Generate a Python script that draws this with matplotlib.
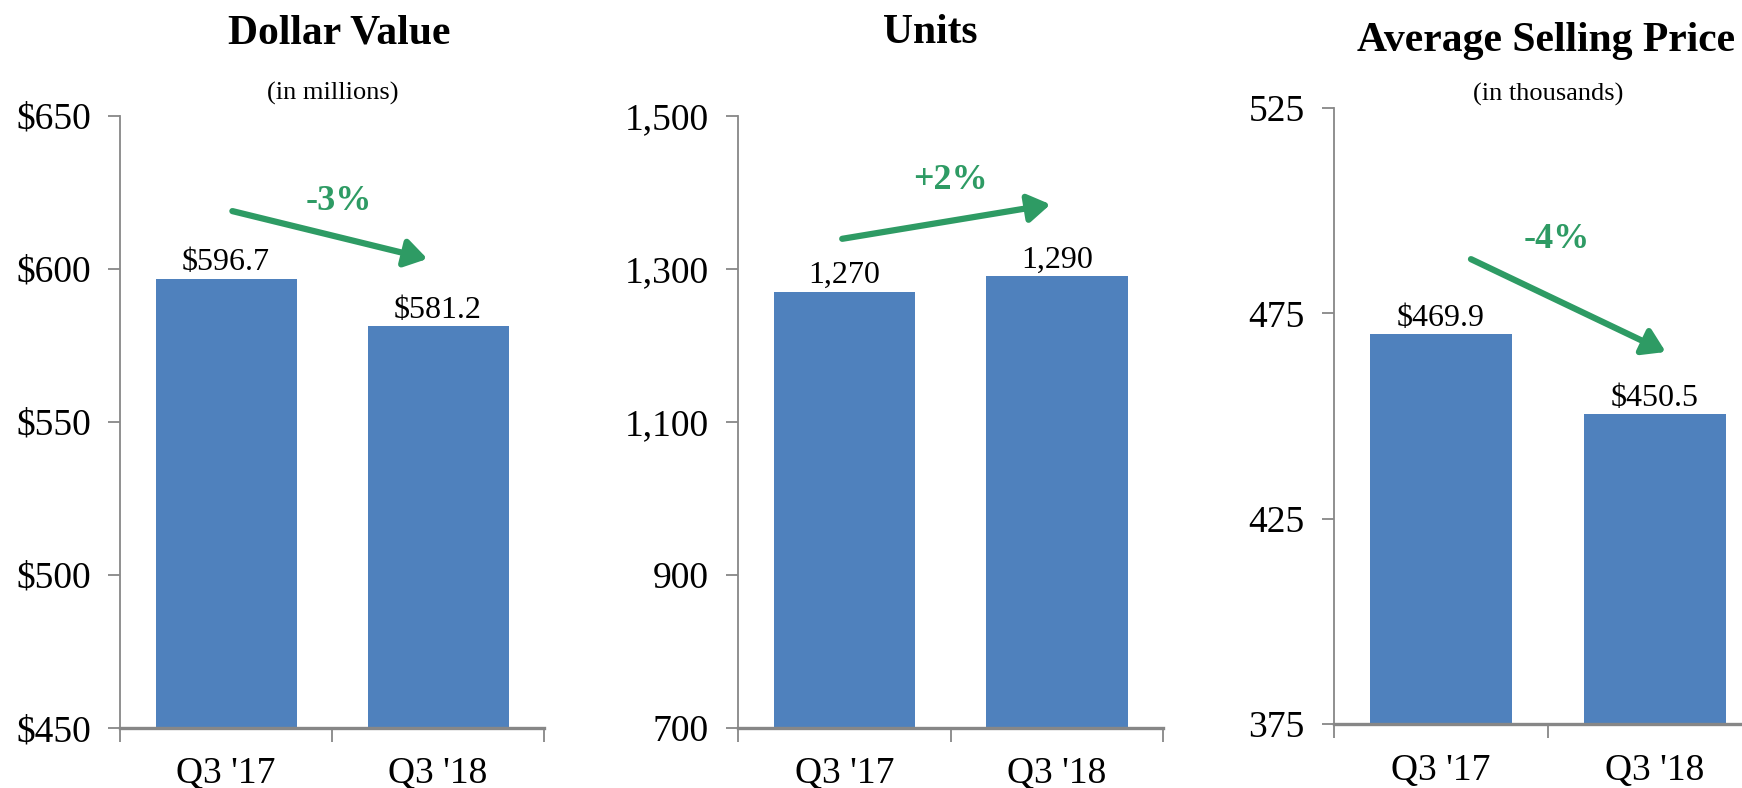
import matplotlib
matplotlib.use("Agg")
import matplotlib.pyplot as plt
from matplotlib.ticker import FuncFormatter, FixedLocator

plt.rcParams['font.family'] = ['Liberation Serif', 'DejaVu Serif']

# quarter-over-quarter comparison
periods = ["Q3 '17", "Q3 '18"]

dollar_value = [596.7, 581.2]      # $ millions
units = [1270, 1290]
avg_price = [469.9, 450.5]         # $ thousands

dollar_ticks = [450, 500, 550, 600, 650]
unit_ticks = [700, 900, 1100, 1300, 1500]
price_ticks = [375, 425, 475, 525]

changes = ["-3%", "+2%", "-4%"]

BAR = "#4f81bd"
GREEN = "#2e9b64"
GREY = "#878787"

fig = plt.figure(figsize=(17.42, 7.88), dpi=100)


def panel(rect, values, ticks, tick_fmt, label_fmt, change, arrow, text_pos):
    ax = fig.add_axes(rect)
    x = range(len(values))
    ax.bar(x, [v - ticks[0] for v in values], bottom=ticks[0], width=0.665, color=BAR)
    ax.set_xlim(-0.5, len(values) - 0.5)
    ax.set_ylim(ticks[0], ticks[-1])

    for s in ("top", "right"):
        ax.spines[s].set_visible(False)
    ax.spines["left"].set_color(GREY)
    ax.spines["left"].set_linewidth(1.3)
    ax.spines["bottom"].set_color(GREY)
    ax.spines["bottom"].set_linewidth(2.4)

    ax.yaxis.set_major_locator(FixedLocator(ticks))
    ax.yaxis.set_major_formatter(FuncFormatter(lambda v, p: tick_fmt(v)))
    ax.tick_params(axis="y", length=9, width=1.3, color=GREY, labelsize=27, pad=12)

    ax.set_xticks(list(x))
    ax.set_xticklabels(periods)
    ax.set_xticks([i - 0.5 for i in range(len(values) + 1)], minor=True)
    ax.tick_params(axis="x", which="major", length=0, labelsize=27, pad=21)
    ax.tick_params(axis="x", which="minor", length=10, width=1.3, color=GREY)

    for i, v in enumerate(values):
        ax.annotate(label_fmt(v), (i, v), xytext=(0, 1), textcoords="offset points",
                    ha="center", va="bottom", fontsize=23)

    (x0, y0), (x1, y1) = arrow
    ax.annotate("", xy=(x1, y1), xytext=(x0, y0),
                arrowprops=dict(arrowstyle="-|>,head_length=0.6,head_width=0.38",
                                lw=4.5, color=GREEN, mutation_scale=22,
                                shrinkA=0, shrinkB=0))
    ax.text(text_pos[0], text_pos[1], change, ha="center", va="center",
            fontsize=26, fontweight="bold", color=GREEN)
    return ax


panel([0.0689, 0.0764, 0.2434, 0.7769], dollar_value, dollar_ticks,
      lambda v: f"${v:,.0f}", lambda v: f"${v:,.1f}", changes[0],
      ((0.03, 618.8), (0.95, 603.2)), (0.53, 622.0))

panel([0.4237, 0.0764, 0.2440, 0.7769], units, unit_ticks,
      lambda v: f"{v:,.0f}", lambda v: f"{v:,.0f}", changes[1],
      ((-0.01, 1339), (0.97, 1384)), (0.50, 1415))

panel([0.7658, 0.0812, 0.2457, 0.7817], avg_price, price_ticks,
      lambda v: f"{v:,.0f}", lambda v: f"${v:,.1f}", changes[2],
      ((0.14, 488.2), (1.05, 465.6)), (0.54, 493.0))

# panel headings
W, H = 1742, 788
fig.text(339 / W, 1 - 33 / H, "Dollar Value", ha="center", va="center",
         fontsize=30, fontweight="bold")
fig.text(333 / W, 1 - 93 / H, "(in millions)", ha="center", va="center", fontsize=19)
fig.text(930 / W, 1 - 33 / H, "Units", ha="center", va="center",
         fontsize=30, fontweight="bold")
fig.text(1546 / W, 1 - 41 / H, "Average Selling Price", ha="center", va="center",
         fontsize=30, fontweight="bold")
fig.text(1548 / W, 1 - 94 / H, "(in thousands)", ha="center", va="center", fontsize=19)

fig.savefig("out.png", dpi=100)
